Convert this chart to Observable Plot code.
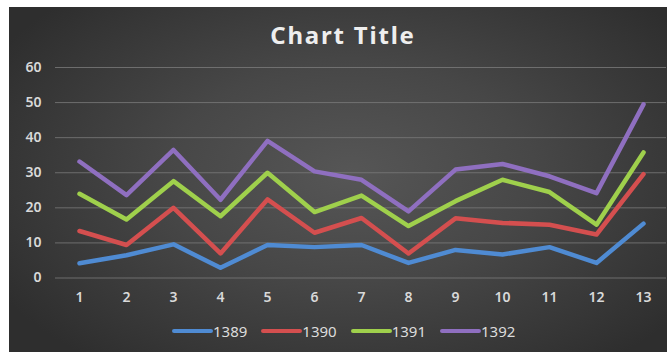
<!DOCTYPE html>
<html>
<head>
<meta charset="utf-8">
<script src="https://cdn.jsdelivr.net/npm/d3@7"></script>
<script src="https://cdn.jsdelivr.net/npm/@observablehq/plot@0.6"></script>
<style>
  html, body { margin: 0; padding: 0; background: #fff; }
  body { width: 667px; height: 352px; overflow: hidden; position: relative; font-family: "Noto Sans", "Open Sans", sans-serif; }
  #panel {
    position: absolute; left: 9px; top: 7px; width: 658px; height: 345px;
    background: radial-gradient(ellipse 62% 70% at 52% 48%, #565656 0%, #474747 45%, #353535 85%, #2e2e2e 100%);
  }
  #title {
    position: absolute; left: 0; width: 686px; top: 18px; text-align: center;
    color: #eeeeee; font-weight: 700; font-size: 24px; letter-spacing: 1.8px;
  }
  #legend {
    position: absolute; left: 172px; top: 321px; display: flex; gap: 14px; align-items: center;
    color: #dcdcdc; font-size: 15px;
  }
  .item { display: flex; align-items: center; }
  .swatch { width: 41px; height: 4px; border-radius: 2px; margin-right: 0px; }
  #chart { position: absolute; left: 0; top: 0; }
</style>
</head>
<body>
<div id="panel">
  <div id="chart"></div>
</div>
<div id="title">Chart Title</div>
<div id="legend"></div>
<script>
// Categories along the x axis
const categories = [1, 2, 3, 4, 5, 6, 7, 8, 9, 10, 11, 12, 13];

// One series per year
const seriesNames = ["1389", "1390", "1391", "1392"];
const v1389 = [4.2, 6.5, 9.6, 2.9, 9.4, 8.8, 9.4, 4.3, 8.0, 6.7, 8.8, 4.3, 15.5];
const v1390 = [13.4, 9.4, 20.0, 7.0, 22.4, 12.9, 17.1, 7.0, 17.0, 15.7, 15.2, 12.4, 29.6];
const v1391 = [24.0, 16.7, 27.6, 17.6, 30.0, 18.8, 23.5, 14.8, 21.9, 28.0, 24.5, 15.2, 35.8];
const v1392 = [33.2, 23.6, 36.5, 22.3, 39.1, 30.4, 28.0, 19.0, 30.9, 32.5, 29.0, 24.2, 49.5];
const colors = ["#4f8bd3", "#d44f4f", "#9fd04c", "#8f6fc0"];

const yTicks = [0, 10, 20, 30, 40, 50, 60];

const seriesValues = [v1389, v1390, v1391, v1392];
const rows = seriesNames.flatMap((name, i) =>
  categories.map((c, j) => ({ series: name, cat: c, value: seriesValues[i][j] }))
);

const chart = Plot.plot({
  width: 658,
  height: 345,
  marginLeft: 46,
  marginRight: 1,
  marginTop: 60,
  marginBottom: 74.5,
  style: { background: "transparent", fontFamily: "'Noto Sans', sans-serif", fontSize: "14px", fontWeight: 600, color: "#d9d9d9", overflow: "visible" },
  x: { type: "point", domain: categories, padding: 0.5, label: null },
  y: { domain: [0, 60], ticks: yTicks, label: null },
  color: { domain: seriesNames, range: colors },
  marks: [
    Plot.gridY(yTicks, { stroke: "#7a7a7a", strokeOpacity: 0.8, strokeWidth: 1 }),
    Plot.axisY(yTicks, { tickSize: 0, tickPadding: 14, fill: "#d9d9d9", fontSize: 14, fontWeight: 600, label: null }),
    Plot.axisX(categories, { tickSize: 0, tickPadding: 14, fill: "#d9d9d9", fontSize: 14, fontWeight: 600, label: null }),
    Plot.lineY(rows, {
      x: "cat", y: "value", z: "series", stroke: "series",
      strokeWidth: 4.5, strokeLinecap: "round", strokeLinejoin: "round",
      style: "filter: drop-shadow(1px 2px 2px rgba(0,0,0,0.45))"
    })
  ]
});
document.getElementById("chart").appendChild(chart);

// Legend below the plot
const legend = document.getElementById("legend");
seriesNames.forEach((name, i) => {
  const item = document.createElement("div");
  item.className = "item";
  const sw = document.createElement("div");
  sw.className = "swatch";
  sw.style.background = colors[i];
  const label = document.createElement("span");
  label.textContent = name;
  item.appendChild(sw);
  item.appendChild(label);
  legend.appendChild(item);
});
</script>
</body>
</html>
